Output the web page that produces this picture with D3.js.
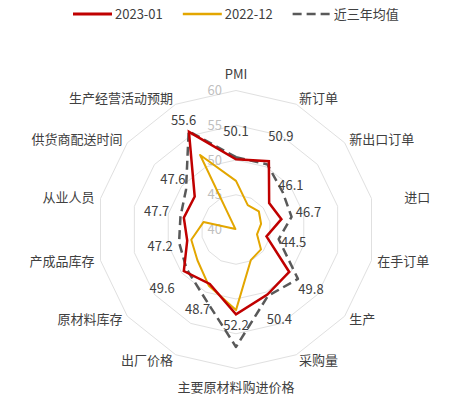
<!DOCTYPE html>
<html><head><meta charset="utf-8">
<script src="https://cdn.jsdelivr.net/npm/d3@7"></script>
<style>body{margin:0;background:#fff} text{font-family:"Noto Sans CJK SC","Noto Sans",sans-serif}</style>
</head><body><svg id="c" width="456" height="406"></svg>
<script>
const categories=['PMI','新订单','新出口订单','进口','在手订单','生产','采购量','主要原材料购进价格','出厂价格','原材料库存','产成品库存','从业人员','供货商配送时间','生产经营活动预期'];
const seriesNames=['2023-01','2022-12','近三年均值'];
const jan2023=[50.1,50.9,46.1,46.7,44.5,49.8,50.4,52.2,48.7,49.6,47.2,47.7,47.6,55.6];
const dec2022=[47.0,43.9,44.2,43.7,43.1,44.6,44.9,51.6,49.0,47.1,46.6,44.8,40.1,51.9];
const avg3y=[50.4,50.4,48.6,48.2,46.3,51.4,50.6,56.9,50.7,49.1,48.4,48.2,49.2,55.7];
const ringTicks=[60,55,50,45,40];

const svg=d3.select('#c');
const cx=236,cy=229.5,R=139;
const colors=['#C00000','#E3A600','#595959'];
const r=d3.scaleLinear().domain([40,60]).range([0,R]);
const angle=d3.scaleLinear().domain([0,categories.length]).range([0,2*Math.PI]);
const pt=(i,rad)=>{const a=angle(i);return [cx+rad*Math.sin(a),cy-rad*Math.cos(a)];};

// rings
const g=svg.append('g');
ringTicks.filter(t=>t>40).forEach(t=>{
  const pts=categories.map((c,i)=>pt(i,r(t)));
  g.append('polygon').attr('points',pts.map(p=>p.join(',')).join(' '))
   .attr('fill','none').attr('stroke','#e0e0e0').attr('stroke-width',1);
});

// tick labels
ringTicks.forEach(t=>{
  g.append('text').attr('x',cx-14).attr('y',cy-r(t)+4.5).attr('text-anchor','end')
   .attr('font-size',13).attr('fill','#bfbfbf').text(t);
});

// series
const line=d3.lineRadial().angle((d,i)=>angle(i)).radius(d=>r(d)).curve(d3.curveLinearClosed);
const sg=svg.append('g').attr('transform',`translate(${cx},${cy})`);
sg.append('path').attr('d',line(avg3y)).attr('fill','none').attr('stroke',colors[2]).attr('stroke-width',2.5).attr('stroke-dasharray','9,5').attr('stroke-linejoin','round');
sg.append('path').attr('d',line(dec2022)).attr('fill','none').attr('stroke',colors[1]).attr('stroke-width',2).attr('stroke-linejoin','round');
sg.append('path').attr('d',line(jan2023)).attr('fill','none').attr('stroke',colors[0]).attr('stroke-width',2.5).attr('stroke-linejoin','miter');

// value labels
const labelShift=i=>categories[i]==='主要原材料购进价格'?1.6:(categories[i]==='生产经营活动预期'?1.8:4);
jan2023.forEach((v,i)=>{
  const p=pt(i,r(v+labelShift(i)));
  svg.append('text').attr('x',p[0]).attr('y',p[1]+4.5).attr('text-anchor','middle')
   .attr('font-size',13).attr('fill','#404040').text(v.toFixed(1));
});

// category labels
categories.forEach((c,i)=>{
  const a=angle(i),s=Math.sin(a),co=Math.cos(a);
  const p=pt(i,R+6);
  let anchor='middle',dy=4.5,dx=0;
  if(Math.abs(s)<0.01){dy=co>0?-6:17;}
  else {anchor=s>0?'start':'end';}
  if(c==='进口')dx=27;
  svg.append('text').attr('x',p[0]+dx).attr('y',p[1]+dy).attr('text-anchor',anchor)
   .attr('font-size',13).attr('fill','#404040').text(c);
});

// legend
const lg=svg.append('g');
let x=73;const ly=14;
seriesNames.forEach((n,k)=>{
  const len=k===2?37:39;
  lg.append('line').attr('x1',x).attr('x2',x+len).attr('y1',ly).attr('y2',ly)
    .attr('stroke',colors[k]).attr('stroke-width',k===0?3:2.5)
    .attr('stroke-dasharray',k===2?'9,5':null);
  const t=lg.append('text').attr('x',x+len+(k===2?4:3)).attr('y',ly+4.5).attr('font-size',13).attr('fill','#404040').text(n);
  x=x+len+3+t.node().getComputedTextLength()+20;
});
</script></body></html>
